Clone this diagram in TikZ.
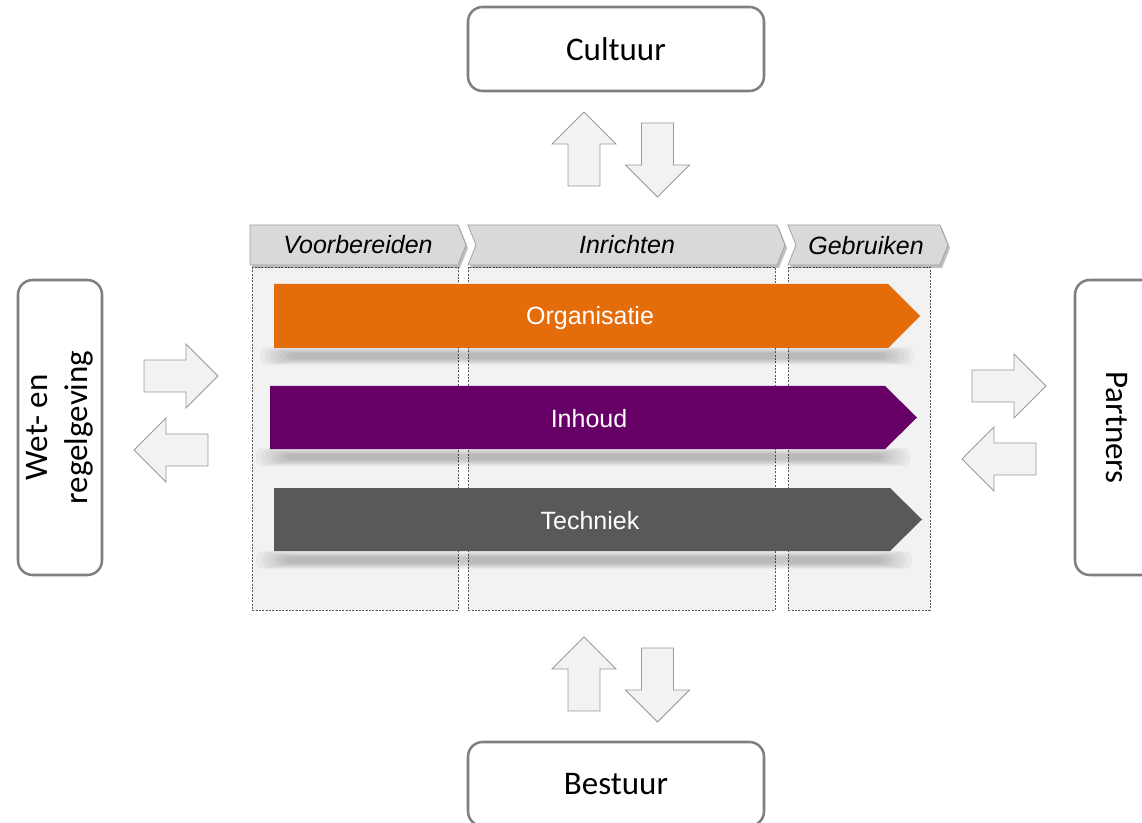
\documentclass[tikz,border=0pt]{standalone}
\usepackage{fontspec}
\setmainfont{Carlito}
\newfontfamily\arialfont{Liberation Sans}
\usetikzlibrary{positioning,shapes,calc}
\definecolor{orgorange}{HTML}{E46C0A}
\definecolor{inhpurple}{HTML}{660066}
\definecolor{techgray}{HTML}{595959}
\definecolor{colfill}{HTML}{F2F2F2}
\definecolor{headfill}{HTML}{D9D9D9}
\definecolor{headline}{HTML}{A0A0A0}
\definecolor{boxline}{HTML}{7F7F7F}
\newcommand{\blockarrow}[3]{\draw[bigarrow,shift={(#1,#2)},rotate=#3] (0,-16) -- (42,-16) -- (42,-32) -- (74,0) -- (42,32) -- (42,16) -- (0,16) -- cycle;}
\newcommand{\barshadow}[3]{\foreach \i in {0,...,6} \fill[black,opacity=0.035,rounded corners=5pt] (#1+5*\i,#3-10+\i) rectangle (#2-5*\i,#3+8-\i);}

\begin{document}
\begin{tikzpicture}[x=0.75pt,y=-0.75pt]
    \tikzstyle{sidebox} = [draw=boxline,line width=1.9pt,rounded corners=11pt,fill=white,align=center,font=\fontsize{24.75}{30}\selectfont]
    \tikzstyle{bigarrow} = [draw=gray!80,fill=colfill,line width=0.6pt]
    \tikzstyle{column} = [draw=techgray,fill=colfill,line width=0.5pt,dash pattern=on 1.5pt off 1pt]
    \tikzstyle{phase} = [draw=headline,fill=headfill,line width=0.6pt]
    \tikzstyle{phasetext} = [font=\arialfont\itshape\fontsize{18.75}{22}\selectfont]
    \tikzstyle{bartext} = [text=white,font=\arialfont\fontsize{18.75}{22}\selectfont]
    \useasboundingbox (0,0) rectangle (1142,823);
      % surrounding boxes
      \node[sidebox,minimum width=222pt,minimum height=63pt] (cultuur) at (616,49) {Cultuur};
      \node[sidebox,minimum width=222pt,minimum height=63pt] (bestuur) at (616,784) {Bestuur};
      \node[sidebox,rotate=90,minimum width=221.25pt,minimum height=63pt] (wet) at (60,427.5) {Wet- en\\regelgeving};
      \node[sidebox,rotate=-90,minimum width=221.25pt,minimum height=63pt] (partners) at (1117,427.5) {Partners};
      \foreach \x/\y/\a in {584/186/90,657.5/123/-90,584/711/90,657.5/648/-90,144/376/0,208/450/180,972/386/0,1036/459/180} \blockarrow{\x}{\y}{\a}
      % phase columns
      \draw[column] (252,267) rectangle (458,610);
      \draw[column] (468,267) rectangle (775,610);
      \draw[column] (788,267) rectangle (930,610);
      % phase headers
      \fill[black,opacity=0.25] (252,228) -- (460,228) -- (468,248) -- (460,268) -- (252,268) -- cycle;
      \fill[black,opacity=0.25] (470,228) -- (779,228) -- (787,248) -- (779,268) -- (470,268) -- (478,248) -- cycle;
      \fill[black,opacity=0.25] (790,228) -- (942,228) -- (950,248) -- (942,268) -- (790,268) -- (798,248) -- cycle;
      \draw[phase] (250,225) -- (458,225) -- (466,245) -- (458,265) -- (250,265) -- cycle;
      \draw[phase] (468,225) -- (777,225) -- (785,245) -- (777,265) -- (468,265) -- (476,245) -- cycle;
      \draw[phase] (788,225) -- (940,225) -- (948,245) -- (940,265) -- (788,265) -- (796,245) -- cycle;
      \node[phasetext] (voorbereiden) at (358,245) {Voorbereiden};
      \node[phasetext] (inrichten) at (627,245) {Inrichten};
      \node[phasetext] (gebruiken) at (866,246) {Gebruiken};
      % bars
      \barshadow{260}{914}{357}
      \barshadow{256}{910}{458}
      \barshadow{256}{912}{561}
      \fill[orgorange] (274,284) -- (888,284) -- (920,316) -- (888,348) -- (274,348) -- cycle;
      \fill[inhpurple] (270,386) -- (885,386) -- (917,417.5) -- (885,449) -- (270,449) -- cycle;
      \fill[techgray] (274,488) -- (890,488) -- (922,519.5) -- (890,551) -- (274,551) -- cycle;
      \node[bartext] (organisatie) at (590,318) {Organisatie};
      \node[bartext] (inhoud) at (589,419) {Inhoud};
      \node[bartext] (techniek) at (590,521) {Techniek};
  \end{tikzpicture}
\end{document}
